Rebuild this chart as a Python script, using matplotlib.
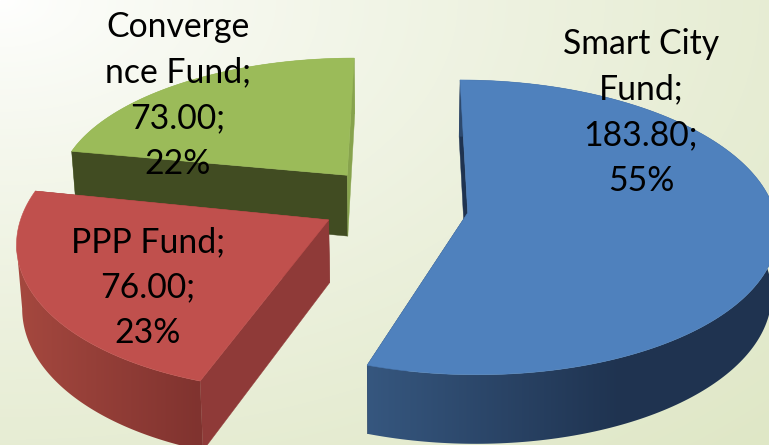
import numpy as np
import matplotlib
matplotlib.use("Agg")
import matplotlib.pyplot as plt
from matplotlib.patches import Polygon
from matplotlib.colors import to_rgb

# --- data ---
names = ["Smart City\nFund;", "PPP Fund;", "Converge\nnce Fund;"]
values = [183.80, 76.00, 73.00]
percent_labels = ["55%", "23%", "22%"]

# --- style ---
top_colors = ["#4F81BD", "#C0504D", "#9BBB59"]
wall_left = ["#36577F", "#A5483F", "#87A34D"]
wall_right = ["#1F3350", "#80332F", "#87A34D"]
cut_start = ["#1F3350", "#8F3A38", "#414C22"]
cut_end = ["#1F3350", "#8F3A38", "#87A34D"]
label_x = [641, 148, 178]
label_top = [44, 242, 27]
line_step = 45.6
W, H = 769, 445

# projection of the pie plane onto the picture
CX, CY, RX, RY, K = 393.0, 202.0, 306.0, 147.0, 0.10
EXPLODE = 0.24
DEPTH = 62.0
BOTTOM_SCALE = 0.985
NUDGE_X = [2.0, 0.0, 0.0]
NUDGE_Y = [5.0, 0.0, 0.0]
SCALE_U = [1.0, 0.995, 0.955]
SCALE_V = [0.985, 1.02, 0.90]
TILT = [-0.004, 0.035, 0.012]


def project(u, v, nudge_x=0.0, nudge_y=0.0, bottom=False):
    s = 1.0 / (1.0 + K * v)
    x = RX * u * s
    y = -RY * v * s + nudge_y
    if bottom:
        x = x * BOTTOM_SCALE
        y = y + DEPTH * s
    return np.column_stack([CX + x + nudge_x, CY + y])


def gradient_fill(poly, c_left, c_right, x_lo, x_hi, z):
    patch = Polygon(poly, closed=True, fc="none", ec="none", zorder=z)
    ax.add_patch(patch)
    xs = np.linspace(0, W, W)
    t = np.clip((xs - x_lo) / (x_hi - x_lo), 0, 1)[None, :, None]
    a, b = np.array(to_rgb(c_left)), np.array(to_rgb(c_right))
    im = ax.imshow(a + (b - a) * t, extent=[0, W, H, 0], aspect="auto", zorder=z)
    im.set_clip_path(patch)


fig = plt.figure(figsize=(W / 100, H / 100), dpi=100)
ax = fig.add_axes([0, 0, 1, 1])
ax.axis("off")

# background gradient
yy, xx = np.mgrid[0:H, 0:W]
d = np.clip(np.hypot(xx / W, yy / H) / np.sqrt(2), 0, 1)[..., None]
d = d ** 0.8
c0 = np.array([1.0, 1.0, 1.0])
c1 = np.array(to_rgb("#DFE7C6"))
ax.imshow(c0 + (c1 - c0) * d, extent=[0, W, H, 0], aspect="auto", zorder=0)

total = sum(values)
edges = np.concatenate([[0], np.cumsum(values)]) / total * 2 * np.pi

# far wedges first
for z, i in enumerate([2, 1, 0]):
    a0, a1 = edges[i], edges[i + 1]
    mid = (a0 + a1) / 2
    u0, v0 = EXPLODE * np.sin(mid), EXPLODE * np.cos(mid)
    th = np.linspace(a0, a1, 200)
    u = u0 + SCALE_U[i] * np.sin(th) + TILT[i] * np.cos(th)
    v = v0 + SCALE_V[i] * np.cos(th)
    nx, ny = NUDGE_X[i], NUDGE_Y[i]
    top = project(u, v, nx, ny)
    bot = project(u, v, nx, ny, True)
    zb = 2 + z * 4

    ap_t = project(np.array([u0]), np.array([v0]), nx, ny)[0]
    ap_b = project(np.array([u0]), np.array([v0]), nx, ny, True)[0]

    # green's cut faces sit in front of its wall; the others lie behind theirs
    face_z = zb + 1 if i == 2 else zb - 1
    for edge_pt, edge_bot, col in ((top[0], bot[0], cut_start[i]), (top[-1], bot[-1], cut_end[i])):
        ax.add_patch(Polygon([edge_pt, ap_t, ap_b, edge_bot], closed=True,
                             fc=col, ec=col, lw=0.3, zorder=face_z))

    # outer wall with horizontal shading; red's wall ends where it turns away at the far left
    xs = top[:, 0]
    front = v < v0 + 0.2
    lo, hi = xs[front].min(), xs[front].max()
    if i == 0:
        hi = lo + (hi - lo) * 0.62
    if i == 1:
        jl = int(np.argmin(xs))
        wall = np.vstack([top[:jl + 1], bot[:jl + 1][::-1]])
    else:
        wall = np.vstack([top, bot[::-1]])
    gradient_fill(wall, wall_left[i], wall_right[i], lo, hi, zb)

    # top face
    ax.add_patch(Polygon(np.vstack([ap_t, top]), closed=True,
                         fc=top_colors[i], ec=top_colors[i], lw=0.4, zorder=zb + 2))

ax.set_xlim(0, W)
ax.set_ylim(H, 0)

# labels
for i in range(3):
    lines = names[i].split("\n") + [f"{values[i]:.2f};", percent_labels[i]]
    for k, line in enumerate(lines):
        ax.text(label_x[i], label_top[i] + k * line_step, line, ha="center", va="center",
                fontsize=24.3, family=["Lato", "DejaVu Sans"], color="black", zorder=30)

fig.savefig("out.png", dpi=100)
